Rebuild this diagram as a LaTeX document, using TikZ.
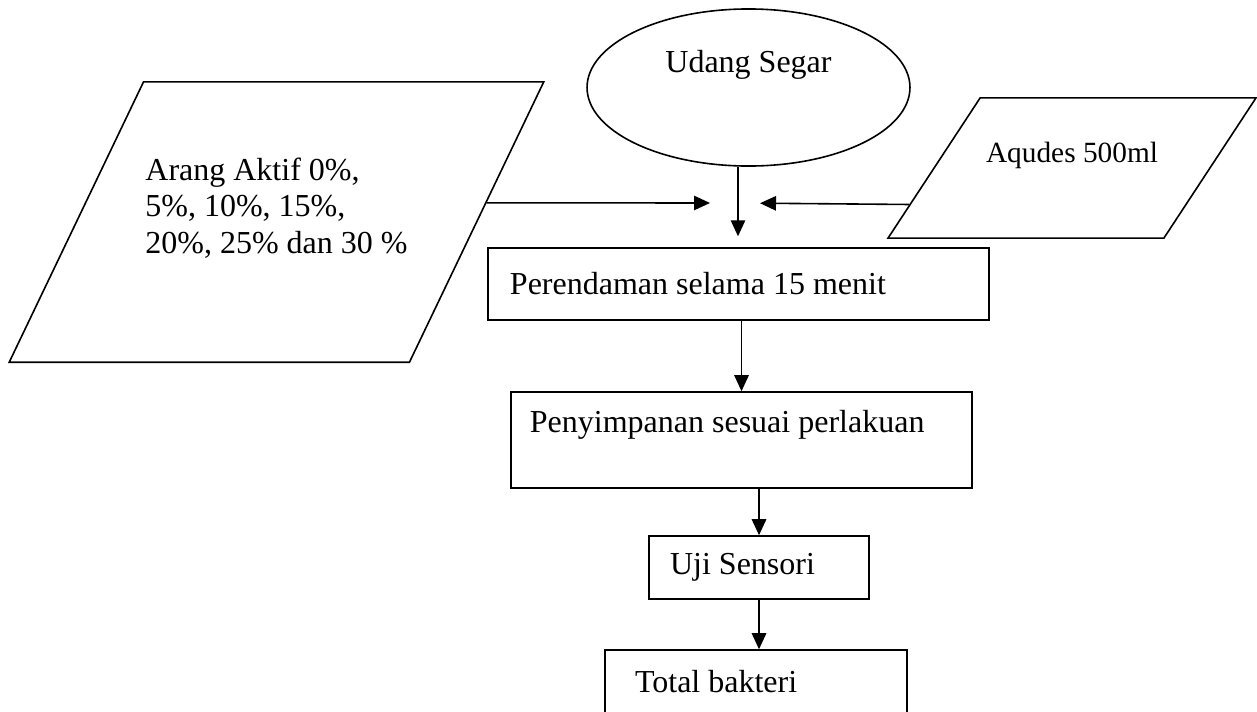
\documentclass[tikz,border=0pt]{standalone}
\usepackage{fontspec}
\setmainfont{Liberation Serif}
\usetikzlibrary{shapes.geometric,arrows.meta,calc}

\begin{document}
\begin{tikzpicture}[x=0.375pt, y=-0.375pt, line width=0.6pt, >={Triangle[length=6pt,width=5.4pt]},
                    font=\fontsize{12}{13.7}\selectfont,
                    box/.style={draw, rectangle, align=flush left, minimum height=#1},
                    miring/.style={draw, trapezium, trapezium stretches body=true, align=flush left}]
                    \useasboundingbox (0,0) rectangle (1257,711);
                    \node[draw, ellipse, minimum width=121.1pt, minimum height=58.9pt, text depth=19.8pt] (udang) at (748.5,87.5) {Udang Segar};
                    \node[miring, trapezium left angle=64.4, trapezium right angle=115.6, inner xsep=0.7pt, inner ysep=28.5pt, text depth=12.3pt] (arang) at (276.5,222) {Arang Aktif 0\%,\\5\%, 10\%, 15\%,\\20\%, 25\% dan 30 \%};
                    \node[miring, trapezium left angle=56.7, trapezium right angle=123.3, font=\fontsize{11}{13}\selectfont, inner xsep=2.2pt, inner ysep=16.5pt, text depth=12pt] (aqudes) at (1072,168) {Aqudes 500ml};
                    \node[box=27pt, inner xsep=8.25pt, text width=171.4pt] (rendam) at (738.5,284) {Perendaman selama 15 menit};
                    \node[box=36pt, inner xsep=7.1pt, text width=158.7pt, text depth=14.2pt] (simpan) at (741.5,440) {Penyimpanan sesuai perlakuan};
                    \node[box=23.6pt, inner xsep=7.9pt, text width=66.7pt] (uji) at (759,567.5) {Uji Sensori};
                    \node[box=23.6pt, inner xsep=11.25pt, text width=90.75pt] (total) at (756,681.5) {Total bakteri};
                    \coordinate (mix) at (738,203);
                    \draw[->, shorten >=10.5pt] ($(arang.top right corner)!0.432!(arang.bottom right corner)$) -- (mix);
                    \draw[->, shorten >=8.25pt] ($(aqudes.top left corner)!0.757!(aqudes.bottom left corner)$) -- (mix);
                    \draw[->, shorten >=4.1pt] (udang.south -| mix) -- (rendam.north -| mix);
                    \draw[->] (rendam.south -| simpan.north) -- (simpan.north);
                    \draw[->] (simpan.south -| uji.north) -- (uji.north);
                    \draw[->] (uji.south) -- (uji.south |- total.north);
                \end{tikzpicture}
\end{document}
